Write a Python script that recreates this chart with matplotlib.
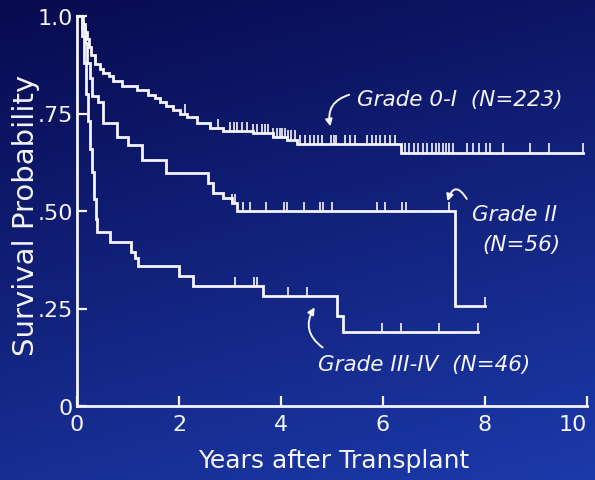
import numpy as np
import matplotlib
matplotlib.use('Agg')
import matplotlib.pyplot as plt

# Grade 0-I (N=223): step times / survival after each step
g1_t = [0, 0.12, 0.16, 0.2, 0.24, 0.28, 0.35, 0.45, 0.51, 0.62, 0.71, 0.88, 1.18, 1.39, 1.52,
        1.63, 1.75, 1.88, 2.02, 2.16, 2.35, 2.61, 2.86, 3.45, 3.84, 4.12, 4.31, 6.35]
g1_s = [1.0, 0.98, 0.96, 0.94, 0.92, 0.90, 0.877, 0.865, 0.855, 0.845, 0.833, 0.82, 0.81, 0.797, 0.79,
        0.78, 0.77, 0.76, 0.75, 0.74, 0.726, 0.713, 0.705, 0.70, 0.69, 0.683, 0.672, 0.65]
g1_end = 9.92
g1_cens = [2.12, 2.76, 3.0, 3.08, 3.14, 3.24, 3.33, 3.45, 3.53, 3.63, 3.69, 3.75, 3.84, 3.92, 3.98,
           4.02, 4.08, 4.14, 4.2, 4.27, 4.37, 4.47, 4.57, 4.65, 4.73, 4.8, 4.98, 5.04, 5.08, 5.25,
           5.35, 5.45, 5.69, 5.78, 5.86, 5.94, 6.04, 6.14, 6.24, 6.43, 6.51, 6.61, 6.69, 6.78, 6.86,
           6.96, 7.04, 7.1, 7.18, 7.24, 7.29, 7.37, 7.65, 7.76, 7.88, 8.02, 8.1, 8.35, 8.88, 9.25, 9.92]

# Grade II (N=56)
g2_t = [0, 0.1, 0.16, 0.2, 0.25, 0.3, 0.42, 0.5, 0.78, 1.0, 1.27, 1.75, 2.57, 2.67, 2.86, 3.04, 3.14, 7.41]
g2_s = [1.0, 0.97, 0.93, 0.88, 0.84, 0.795, 0.78, 0.726, 0.69, 0.67, 0.63, 0.597, 0.572, 0.546, 0.533, 0.52, 0.50, 0.256]
g2_end = 8.0
g2_cens = [3.04, 3.1, 3.25, 3.4, 3.7, 4.06, 4.12, 4.45, 4.76, 4.82, 5.0, 5.88, 6.03, 6.38, 6.46, 7.3, 8.0]

# Grade III-IV (N=46)
g3_t = [0, 0.1, 0.14, 0.18, 0.22, 0.26, 0.3, 0.34, 0.37, 0.39, 0.65, 1.06, 1.14, 1.2, 2.0, 2.27, 3.65, 5.1, 5.22]
g3_s = [1.0, 0.95, 0.88, 0.80, 0.73, 0.66, 0.60, 0.53, 0.48, 0.446, 0.42, 0.395, 0.38, 0.36, 0.333, 0.308, 0.282, 0.23, 0.19]
g3_end = 7.86
g3_cens = [3.1, 3.47, 3.52, 4.13, 4.5, 5.98, 6.35, 7.1, 7.86]

x_ticks = [0, 2, 4, 6, 8, 10]
y_ticks = [0, 0.25, 0.5, 0.75, 1.0]
y_ticklabels = ['0', '.25', '.50', '.75', '1.0']

fg = '#f4f4fa'

fig = plt.figure(figsize=(5.95, 4.81), dpi=100)

# slide background, dark navy fading to brighter blue at the bottom
bg = fig.add_axes([0, 0, 1, 1], zorder=-10)
yy, xx = np.mgrid[0:1:200j, 0:1:200j]
mix = np.clip(0.75 * yy + 0.25 * xx, 0, 1)
top = np.array([8, 10, 78]) / 255
bot = np.array([28, 58, 170]) / 255
img = top[None, None, :] * (1 - mix[..., None]) + bot[None, None, :] * mix[..., None]
bg.imshow(img, aspect='auto', extent=[0, 1, 0, 1], origin='upper')
bg.axis('off')

ax = fig.add_axes([77 / 595, 1 - 407 / 481, 510 / 595, 390 / 481])
ax.patch.set_alpha(0)


def step_val(t, s, c):
    i = np.searchsorted(t, c, side='right') - 1
    return np.array(s)[i]


for t, s, end, cens in [(g1_t, g1_s, g1_end, g1_cens),
                        (g2_t, g2_s, g2_end, g2_cens),
                        (g3_t, g3_s, g3_end, g3_cens)]:
    xs = list(t) + [end]
    ys = list(s) + [s[-1]]
    ax.plot(xs, ys, drawstyle='steps-post', color=fg, lw=2.0, clip_on=False, solid_joinstyle='miter')
    cv = step_val(t, s, cens)
    ax.vlines(cens, cv, cv + 0.024, color=fg, lw=1.2, clip_on=False)

ax.set_xlim(0, 10)
ax.set_ylim(0, 1)
for sp in ['top', 'right']:
    ax.spines[sp].set_visible(False)
for sp in ['left', 'bottom']:
    ax.spines[sp].set_color(fg)
    ax.spines[sp].set_linewidth(2)

ax.set_xticks(x_ticks)
ax.set_xticklabels([str(v) for v in x_ticks])
ax.get_xticklabels()[-1].set_ha('right')
ax.set_yticks(y_ticks)
ax.set_yticklabels(y_ticklabels)
ax.tick_params(direction='in', length=7, width=1.6, colors=fg, labelsize=16)
ax.tick_params(axis='x', pad=6)
ax.tick_params(axis='y', pad=3)

ax.set_xlabel('Years after Transplant', fontsize=18, color=fg)
ax.set_ylabel('Survival Probability', fontsize=21, color=fg)
ax.xaxis.set_label_coords(0.503, -0.108)
ax.yaxis.set_label_coords(-0.073, 0.492)

txt = dict(color=fg, fontsize=15.5, style='italic', ha='left', va='center')
ax.text(5.49, 0.787, 'Grade 0-I  (N=223)', **txt)
ax.text(7.75, 0.492, 'Grade II', **txt)
ax.text(7.94, 0.415, '(N=56)', **txt)
ax.text(4.73, 0.108, 'Grade III-IV  (N=46)', **txt)

arr = dict(arrowstyle='-|>', color=fg, lw=1.4, mutation_scale=10)
ax.annotate('', xy=(4.98, 0.71), xytext=(5.39, 0.80),
            arrowprops=dict(connectionstyle='arc3,rad=0.5', **arr))
ax.annotate('', xy=(7.25, 0.518), xytext=(7.67, 0.525),
            arrowprops=dict(connectionstyle='arc3,rad=1.2', **arr))
ax.annotate('', xy=(4.69, 0.259), xytext=(4.86, 0.146),
            arrowprops=dict(connectionstyle='arc3,rad=-0.5', **arr))

fig.savefig('out.png', dpi=100)
